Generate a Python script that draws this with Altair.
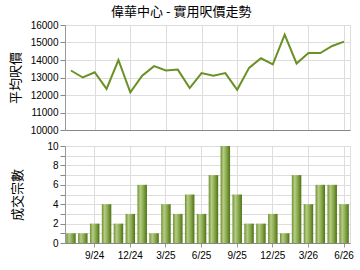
import altair as alt
import pandas as pd

months = ["7/24", "8/24", "9/24", "10/24", "11/24", "12/24", "1/25", "2/25", "3/25",
          "4/25", "5/25", "6/25", "7/25", "8/25", "9/25", "10/25", "11/25", "12/25",
          "1/26", "2/26", "3/26", "4/26", "5/26", "6/26"]
price = [13400, 13000, 13300, 12350, 14000, 12150, 13100, 13650, 13400, 13450, 12400, 13250,
         13100, 13250, 12300, 13550, 14100, 13750, 15450, 13800, 14400, 14400, 14800, 15050]
count = [1, 1, 2, 4, 2, 3, 6, 1, 4, 3, 5, 3, 7, 10, 5, 2, 2, 3, 1, 7, 4, 6, 6, 4]
label_months = ["9/24", "12/24", "3/25", "6/25", "9/25", "12/25", "3/26", "6/26"]

df = pd.DataFrame({"month": months, "price": price, "count": count})

FONT = "Liberation Sans"
CJK = "Noto Sans CJK TC"

xscale = alt.Scale(paddingInner=0.2, paddingOuter=0.1)

top = alt.Chart(df).mark_line(color="#6b9024", strokeWidth=2).encode(
    x=alt.X("month:O", sort=None, scale=alt.Scale(type="point", padding=0.5),
            axis=alt.Axis(values=label_months, labels=False, ticks=False, title=None,
                          grid=True, domain=True)),
    y=alt.Y("price:Q", scale=alt.Scale(domain=[10000, 16000], nice=False, zero=False),
            axis=alt.Axis(values=[10000, 11000, 12000, 13000, 14000, 15000, 16000],
                          format="d",
                          title="平均呎價", titleFont=CJK, titleFontSize=13,
                          titleFontWeight="normal", titlePadding=8,
                          domain=True, domainColor="#999999")),
).properties(width=285, height=105)

bottom = alt.Chart(df).mark_bar(
    color=alt.Gradient(
        gradient="linear", x1=0, x2=1, y1=0, y2=0,
        stops=[alt.GradientStop(offset=0, color="#6f9030"),
               alt.GradientStop(offset=0.3, color="#b5cc86"),
               alt.GradientStop(offset=0.65, color="#86a648"),
               alt.GradientStop(offset=1, color="#4d7216")])
).encode(
    x=alt.X("month:O", sort=None, scale=xscale,
            axis=alt.Axis(values=label_months, title=None, labelAngle=0, grid=True,
                          ticks=True, tickSize=4, tickColor="#999999", labelPadding=3)),
    y=alt.Y("count:Q", scale=alt.Scale(domain=[0, 10], nice=False),
            axis=alt.Axis(values=list(range(0, 11)), format="d", title="成交宗數",
                          titleFont=CJK, titleFontSize=13, titleFontWeight="normal",
                          titlePadding=22,
                          domain=True, domainColor="#999999")),
).properties(width=285, height=97)

chart = alt.vconcat(top, bottom, spacing=4).properties(
    title=alt.TitleParams("偉華中心 - 實用呎價走勢", font=CJK, fontSize=13,
                          fontWeight="normal", anchor="middle", offset=1, color="#000000"),
    padding={"left": 8, "top": 5, "right": 2, "bottom": 0},
).configure_axis(
    labelFont=FONT, labelFontSize=11, labelColor="#000000", gridColor="#dddddd",
    domainColor="#888888", ticks=False, labelPadding=13, labelOverlap=False,
    titleColor="#000000",
).configure_view(stroke=None).configure(background="#ffffff")

chart.save("out.html", embed_options={"renderer": "svg", "actions": False})
